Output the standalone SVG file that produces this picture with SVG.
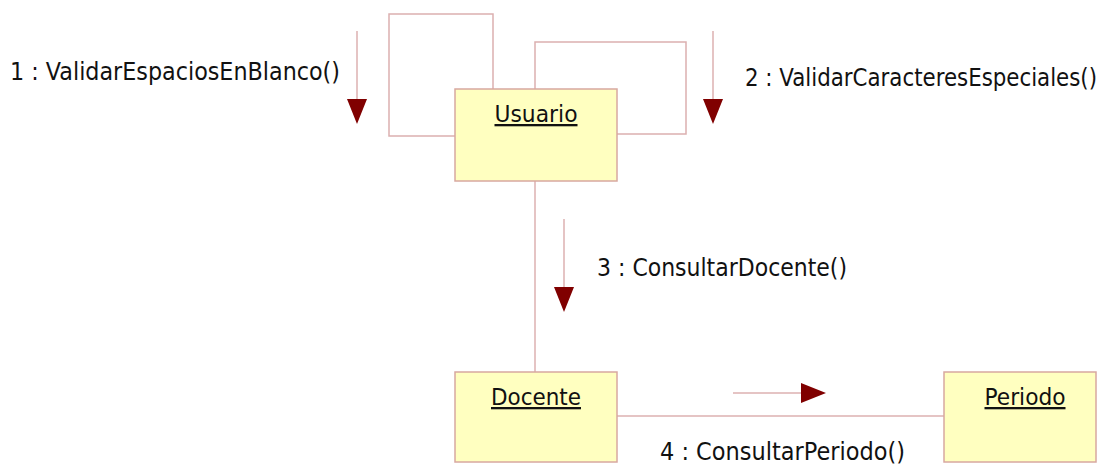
<svg xmlns="http://www.w3.org/2000/svg" width="1111" height="466" viewBox="0 0 1111 466">
  <style>
    .node { fill: #ffffc0; stroke: #d8a8a0; stroke-width: 1.5; }
    .link { fill: none; stroke: #dcb0b0; stroke-width: 1.5; }
    .msg { fill: none; stroke: #dcb0b0; stroke-width: 1.5; }
    .head { fill: #800000; }
    text { font-family: "DejaVu Sans", "Liberation Sans", sans-serif; font-size: 24px; fill: #111; }
    .name { font-size: 23px; text-decoration: underline; text-anchor: middle; }
  </style>

  <!-- links between objects -->
  <g id="connectors">
    <polyline class="link" points="493,89 493,14 389,14 389,136 455,136"/>
    <polyline class="link" points="535,89 535,42 686,42 686,134 617,134"/>
    <line class="link" x1="535" y1="181" x2="535" y2="372"/>
    <line class="link" x1="617" y1="416" x2="944" y2="416"/>

    <!-- message arrows -->
    <line class="msg" x1="357" y1="31" x2="357" y2="100"/>
    <polygon class="head" points="347,99 367,99 357,124"/>
    <line class="msg" x1="713" y1="31" x2="713" y2="100"/>
    <polygon class="head" points="703,99 723,99 713,124"/>
    <line class="msg" x1="564" y1="219" x2="564" y2="288"/>
    <polygon class="head" points="554,287 574,287 564,312"/>
    <line class="msg" x1="733" y1="393" x2="802" y2="393"/>
    <polygon class="head" points="801,383 801,403 826,393"/>

    <text x="10" y="80" textLength="330" lengthAdjust="spacingAndGlyphs">1 : ValidarEspaciosEnBlanco()</text>
    <!-- long label: narrowed horizontally so it stays inside the canvas -->
    <text transform="translate(745,86) scale(0.8,1)" x="0" y="0" textLength="440" lengthAdjust="spacingAndGlyphs">2 : ValidarCaracteresEspeciales()</text>
    <text x="597" y="276" textLength="250" lengthAdjust="spacingAndGlyphs">3 : ConsultarDocente()</text>
    <text x="660" y="460" textLength="245" lengthAdjust="spacingAndGlyphs">4 : ConsultarPeriodo()</text>
  </g>

  <g id="usuario">
    <rect class="node" x="455" y="89" width="162" height="92"/>
    <text class="name" x="536" y="122" textLength="83" lengthAdjust="spacingAndGlyphs">Usuario</text>
  </g>

  <g id="docente">
    <rect class="node" x="455" y="372" width="162" height="90"/>
    <text class="name" x="536" y="405" textLength="90" lengthAdjust="spacingAndGlyphs">Docente</text>
  </g>

  <g id="periodo">
    <rect class="node" x="944" y="372" width="152" height="90"/>
    <text class="name" x="1025" y="405" textLength="81" lengthAdjust="spacingAndGlyphs">Periodo</text>
  </g>
</svg>
